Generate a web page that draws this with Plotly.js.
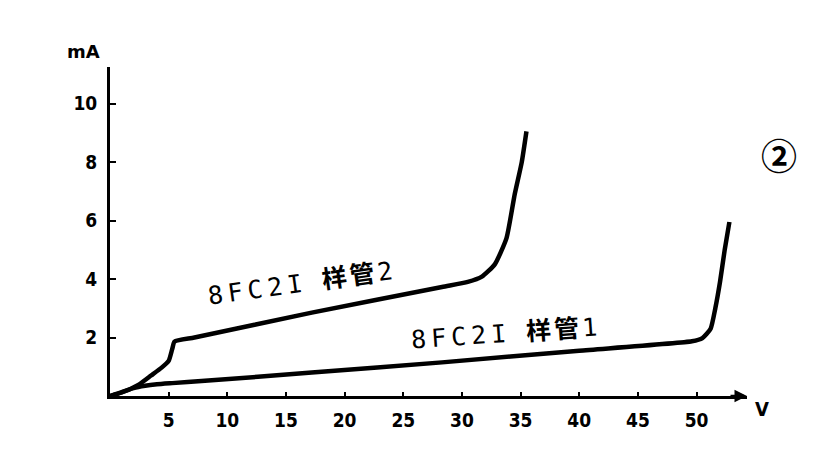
<!DOCTYPE html>
<html>
<head>
<meta charset="utf-8">
<script src="https://cdn.plot.ly/plotly-3.0.1.min.js"></script>
<style>html,body{margin:0;padding:0;background:#fff;}#chart{width:835px;height:450px;}</style>
</head>
<body>
<div id="chart"></div>
<script>
// Tube 2 (样管2): voltage (V) vs current (mA)
const tube2V = [0, 1.0, 2.45, 3.5, 4.4, 5.0, 5.3, 5.5, 7.2, 17.2, 28.3, 30.5, 31.7, 32.8, 33.8, 34.5, 35.1, 35.5];
const tube2I = [0, 0.12, 0.39, 0.7, 0.97, 1.2, 1.6, 1.86, 2.0, 2.85, 3.73, 3.9, 4.08, 4.5, 5.4, 6.9, 8.0, 9.05];
// Tube 1 (样管1)
const tube1V = [0, 1.0, 2.0, 3.0, 4.0, 5.3, 7.8, 17.2, 28.3, 40, 49.6, 50.5, 51.2, 51.6, 52.0, 52.4, 52.8];
const tube1I = [0, 0.13, 0.27, 0.35, 0.4, 0.44, 0.51, 0.8, 1.15, 1.55, 1.87, 1.98, 2.3, 3.0, 3.9, 5.0, 5.95];
// Axis ticks
const xTicks = [5, 10, 15, 20, 25, 30, 35, 40, 45, 50];
const yTicks = [2, 4, 6, 8, 10];
// Labels: [model, sample word, sample number]
const label2 = ['8FC2I', '样管', '2'];
const label1 = ['8FC2I', '样管', '1'];
const figNo = '②';
const yUnit = 'mA';
const xUnit = 'V';

const lineStyle = {color: '#000', width: 4.5, shape: 'spline', smoothing: 0.5};
const data = [
  {x: tube2V, y: tube2I, mode: 'lines', line: lineStyle, hoverinfo: 'skip'},
  {x: tube1V, y: tube1I, mode: 'lines', line: lineStyle, hoverinfo: 'skip'}
];
const labelFont = {family: 'DejaVu Sans Mono, Noto Sans CJK SC', size: 25, color: '#000'};
const makeLabel = p => '<span style="letter-spacing:5px">' + p[0] + '</span> ' +
  '<b><span style="letter-spacing:3px">' + p[1] + '</span></b>' + p[2];
const tickFont = {family: 'DejaVu Sans Condensed', size: 19, color: '#000', weight: 'bold'};
const layout = {
  width: 835, height: 450,
  margin: {l: 110, r: 88, t: 67, b: 53.5},
  paper_bgcolor: '#fff', plot_bgcolor: '#fff',
  showlegend: false,
  xaxis: {
    range: [0, 54.3], tickvals: xTicks, ticktext: xTicks.map(String),
    showgrid: false, zeroline: false, showline: true, linecolor: '#000', linewidth: 3,
    ticks: 'inside', ticklen: 4, tickwidth: 2, tickcolor: '#000',
    ticklabelstandoff: 5, tickfont: tickFont
  },
  yaxis: {
    range: [0, 11.25], tickvals: yTicks, ticktext: yTicks.map(String),
    showgrid: false, zeroline: false, showline: true, linecolor: '#000', linewidth: 3,
    ticks: 'inside', ticklen: 6, tickwidth: 2, tickcolor: '#000',
    ticklabelstandoff: 6, tickfont: tickFont
  },
  annotations: [
    {x: 16.2, y: 3.86, xref: 'x', yref: 'y', text: makeLabel(label2), showarrow: false, textangle: -8,
     xanchor: 'center', yanchor: 'middle', font: labelFont},
    {x: 33.6, y: 2.13, xref: 'x', yref: 'y', text: makeLabel(label1), showarrow: false, textangle: -4,
     xanchor: 'center', yanchor: 'middle', font: labelFont},
    {x: 1.05, y: 0.737, xref: 'paper', yref: 'paper', text: '<b>' + figNo + '</b>', showarrow: false,
     xanchor: 'center', yanchor: 'middle',
     font: {family: 'Noto Sans CJK SC', size: 36, color: '#000'}},
    {x: -0.042, y: 1.047, xref: 'paper', yref: 'paper', text: yUnit, showarrow: false,
     xanchor: 'center', yanchor: 'middle',
     font: {family: 'DejaVu Sans', size: 18, color: '#000', weight: 'bold'}},
    {x: 1.024, y: -0.041, xref: 'paper', yref: 'paper', text: xUnit, showarrow: false,
     xanchor: 'center', yanchor: 'middle',
     font: {family: 'DejaVu Sans Condensed', size: 20, color: '#000', weight: 'bold'}},
    {x: 1, y: 0, xref: 'paper', yref: 'paper', ax: -18, ay: 0, text: '', showarrow: true,
     arrowhead: 2, arrowsize: 1, arrowwidth: 2.5, arrowcolor: '#000'}
  ]
};
Plotly.newPlot('chart', data, layout, {displayModeBar: false, staticPlot: true});
</script>
</body>
</html>
